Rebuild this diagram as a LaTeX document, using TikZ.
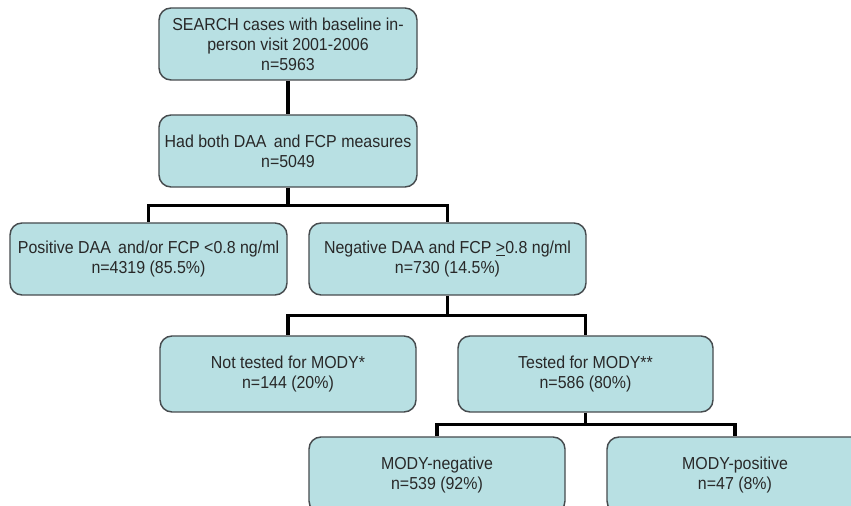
\documentclass[tikz,border=0pt]{standalone}
\usepackage{fontspec}
\setmainfont{Liberation Sans}[FakeStretch=0.92]
\definecolor{boxfill}{RGB}{184,224,227}
\definecolor{boxline}{RGB}{70,75,78}
\definecolor{txt}{RGB}{40,40,40}
\tikzset{
  fbox/.style={draw=boxline, line width=1.1pt, fill=boxfill, rounded corners=9pt,
    minimum height=54pt, align=center, text=txt, inner sep=1pt,
    font=\fontsize{13pt}{15pt}\selectfont},
  link/.style={draw=black, line width=2.3pt}
}
\begin{document}
\begin{tikzpicture}[x=0.75pt, y=-0.75pt]
\useasboundingbox (0,0) rectangle (851,506);
\clip (0,0) rectangle (851,506);
\fill[white] (0,0) rectangle (851,506);
\node[fbox, minimum width=193.5pt] (b1) at (288,44) {SEARCH cases with baseline in-\\person visit 2001-2006\\n=5963};
\node[fbox, minimum width=193.5pt] (b2) at (288,151) {Had both DAA\, and FCP measures\\n=5049};
\node[fbox, minimum width=207.75pt] (b3l) at (148.5,259) {Positive DAA\, and/or FCP {<}0.8 ng/ml\\n=4319 (85.5\%)};
\node[fbox, minimum width=207.75pt] (b3r) at (447.5,259) {Negative DAA and FCP \underline{>}0.8 ng/ml\\n=730 (14.5\%)};
\node[fbox, minimum width=192pt, minimum height=57pt] (b4l) at (288,374) {Not tested for MODY*\\n=144 (20\%)};
\node[fbox, minimum width=191.25pt, minimum height=57pt] (b4r) at (585.5,374) {Tested for MODY**\\n=586 (80\%)};
\node[fbox, minimum width=192pt, minimum height=57pt] (b5l) at (437,475) {MODY-negative\\n=539 (92\%)};
\node[fbox, minimum width=192pt, minimum height=57pt] (b5r) at (735,475) {MODY-positive\\n=47 (8\%)};
\draw[link] (b1.south) -- (b2.north);
\draw[link] (b2.south) -- ++(0,18) coordinate (j1) -| (b3l.north);
\draw[link] (j1) -| (b3r.north);
\draw[link] (b3r.south) -- ++(0,20) coordinate (j2) -| (b4l.north);
\draw[link] (j2) -| (b4r.north);
\draw[link] (b4r.south) -- ++(0,12) coordinate (j3) -| (b5l.north);
\draw[link] (j3) -| (b5r.north);
\end{tikzpicture}
\end{document}
